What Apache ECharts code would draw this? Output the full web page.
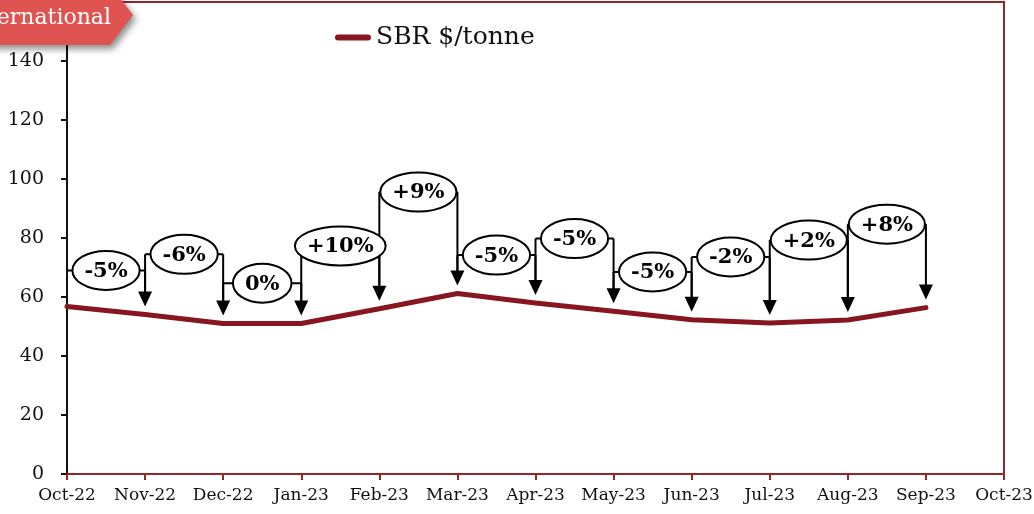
<!DOCTYPE html>
<html>
<head>
<meta charset="utf-8">
<title>SBR $/tonne</title>
<script src="https://cdn.jsdelivr.net/npm/echarts@6/dist/echarts.min.js"></script>
<style>
  html, body { margin: 0; padding: 0; background: #fff; }
  #chart { width: 1034px; height: 514px; }
</style>
</head>
<body>
<div id="chart"></div>
<script>
// Month labels along the time axis (the last one closes the axis)
const months = ['Oct-22', 'Nov-22', 'Dec-22', 'Jan-23', 'Feb-23', 'Mar-23', 'Apr-23',
                'May-23', 'Jun-23', 'Jul-23', 'Aug-23', 'Sep-23', 'Oct-23'];
// Monthly SBR price, $/tonne
const sbrPrice = [56.8, 54.1, 51.0, 51.0, 56.0, 61.2, 58.0, 55.2, 52.3, 51.2, 52.2, 56.4];
// Y axis ticks
const yTicks = { min: 0, max: 160, step: 20 };

// Height (in $/tonne units) at which each month-on-month callout sits
const calloutLevels = [69, 74.5, 64.7, 77.3, 95.6, 74.2, 79.8, 68.5, 73.6, 79.3, 84.7];

const SERIF = '"DejaVu Serif", "Liberation Serif", serif';
const FRAME = '#94262B';
const LINE = '#881620';

// Month-on-month change, rounded to a whole percent
function pctLabel(i) {
  const p = Math.round((sbrPrice[i] / sbrPrice[i - 1] - 1) * 100);
  return (p > 0 ? '+' : '') + p + '%';
}

const measureCtx = document.createElement('canvas').getContext('2d');
const CALLOUT_FONT = 'bold 21px ' + SERIF;
measureCtx.font = CALLOUT_FONT;

const calloutData = calloutLevels.map((lvl, k) => [k + 1, lvl]);

const chart = echarts.init(document.getElementById('chart'), null, { renderer: 'canvas' });

chart.setOption({
  animation: false,
  backgroundColor: '#fff',
  grid: {
    left: 67, right: 30, top: 2, bottom: 40,
    outerBoundsMode: 'none',
    containLabel: false,
    show: true, borderColor: FRAME, borderWidth: 2, backgroundColor: 'transparent'
  },
  legend: {
    data: ['SBR $/tonne'],
    left: 330, top: 20,
    itemWidth: 36, itemHeight: 6, itemGap: 10,
    icon: 'path://M3,0 H33 A3,3 0 0 1 33,6 H3 A3,3 0 0 1 3,0 Z',
    textStyle: { fontFamily: SERIF, fontSize: 25, color: '#111' }
  },
  xAxis: {
    type: 'category',
    data: months,
    boundaryGap: false,
    axisLine: { lineStyle: { color: FRAME, width: 2 } },
    axisTick: { show: true, length: 6, lineStyle: { color: FRAME, width: 2 } },
    axisLabel: { interval: 0, margin: 13, fontFamily: SERIF, fontSize: 17, color: '#111' },
    splitLine: { show: false }
  },
  yAxis: {
    type: 'value',
    min: yTicks.min, max: yTicks.max, interval: yTicks.step,
    axisLine: { show: true, lineStyle: { color: '#1a0d0d', width: 2 } },
    axisTick: { show: true, length: 6, lineStyle: { color: '#1a0d0d', width: 2 } },
    axisLabel: { margin: 23, fontFamily: SERIF, fontSize: 19, color: '#111' },
    splitLine: { show: false }
  },
  graphic: [
    {
      type: 'polygon', z: 100,
      shape: { points: [[-20, -15], [110, -15], [133, 15], [110, 45], [-20, 45]] },
      style: {
        fill: '#DF5350',
        shadowBlur: 7, shadowOffsetX: 3, shadowOffsetY: 4, shadowColor: 'rgba(0,0,0,0.45)'
      }
    },
    {
      type: 'text', z: 101,
      style: {
        text: 'International', x: 111, y: 18,
        align: 'right', verticalAlign: 'middle',
        font: '22px ' + SERIF, fill: '#fff'
      }
    }
  ],
  series: [
    {
      name: 'SBR $/tonne',
      type: 'line',
      data: sbrPrice,
      symbol: 'none',
      z: 2,
      lineStyle: { color: LINE, width: 5, cap: 'round', join: 'round' },
      itemStyle: { color: LINE }
    },
    {
      // brackets and arrows for each month-on-month change
      type: 'custom',
      z: 3,
      clip: false,
      silent: true,
      encode: { x: 0, y: 1 },
      data: calloutData,
      renderItem: function (params, api) {
        const i = api.value(0);
        const lvl = api.value(1);
        const p0 = api.coord([i - 1, sbrPrice[i - 1]]);
        const p1 = api.coord([i, sbrPrice[i]]);
        const y = api.coord([i, lvl])[1];
        const gap = 8, headH = 15, headW = 14;
        const tip0 = p0[1] - gap, tip1 = p1[1] - gap;
        const st = { stroke: '#000', lineWidth: 2, fill: null };
        const children = [
          { type: 'line', shape: { x1: p0[0], y1: y, x2: p1[0], y2: y }, style: st },
          { type: 'line', shape: { x1: p1[0], y1: y, x2: p1[0], y2: tip1 - headH + 1 }, style: st },
          {
            type: 'polygon',
            shape: { points: [[p1[0] - headW / 2, tip1 - headH], [p1[0] + headW / 2, tip1 - headH], [p1[0], tip1]] },
            style: { fill: '#000' }
          }
        ];
        if (i > 1) {
          children.push({ type: 'line', shape: { x1: p0[0], y1: y, x2: p0[0], y2: tip0 - headH + 1 }, style: st });
        }
        return { type: 'group', children: children };
      }
    },
    {
      // labelled ellipses with the percentage change
      type: 'custom',
      z: 4,
      clip: false,
      silent: true,
      encode: { x: 0, y: 1 },
      data: calloutData,
      renderItem: function (params, api) {
        const i = api.value(0);
        const lvl = api.value(1);
        const a = api.coord([i - 1, lvl]);
        const b = api.coord([i, lvl]);
        const cx = (a[0] + b[0]) / 2, cy = a[1];
        const txt = pctLabel(i);
        const w = measureCtx.measureText(txt).width;
        return {
          type: 'group',
          children: [
            {
              type: 'ellipse',
              shape: { cx: cx, cy: cy, rx: w / 2 + 12, ry: 19.5 },
              style: { fill: '#fff', stroke: '#000', lineWidth: 2 }
            },
            {
              type: 'text',
              style: {
                text: txt, x: cx, y: cy + 1,
                align: 'center', verticalAlign: 'middle',
                font: CALLOUT_FONT, fill: '#000'
              }
            }
          ]
        };
      }
    }
  ]
});
</script>
</body>
</html>
